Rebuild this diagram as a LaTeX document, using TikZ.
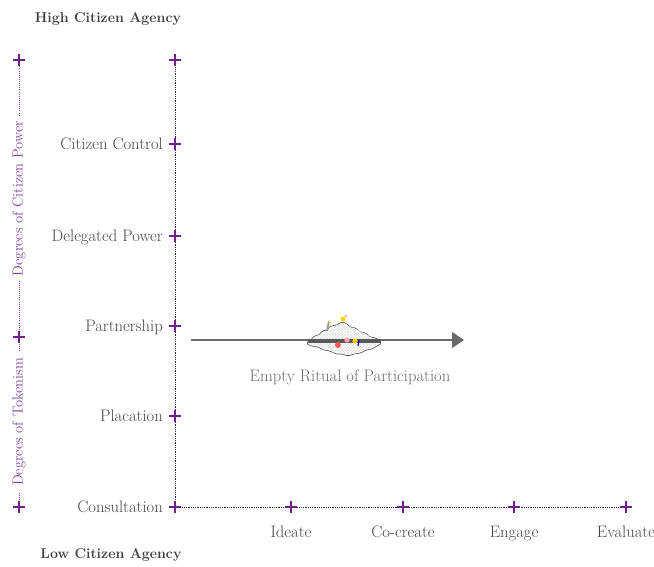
\documentclass[tikz,border=0pt]{standalone}
\usepackage{fontspec}
\usetikzlibrary{arrows.meta,patterns,calc}
\definecolor{tickpurple}{HTML}{6E1F88}
\definecolor{softpurple}{HTML}{8446A0}
\definecolor{labelgray}{HTML}{454545}
\definecolor{headgray}{HTML}{404040}
\definecolor{arrowgray}{HTML}{6A6A6A}
\begin{document}
\begin{tikzpicture}[x=1pt,y=-1pt,
  labelfont/.style={font=\fontsize{16.6}{19}\selectfont, text=labelgray, inner sep=0pt},
  headfont/.style={font=\fontsize{14.2}{17}\selectfont\bfseries, text=headgray, inner sep=0pt},
  sidefont/.style={font=\fontsize{14.5}{16}\selectfont, text=softpurple, fill=white, inner xsep=4pt, inner ysep=0pt, rotate=90},
  axisline/.style={draw=black!85, line width=0.8pt, dash pattern=on 0.9pt off 0.9pt},
  sideline/.style={draw=softpurple, line width=0.9pt, dash pattern=on 0.9pt off 1.2pt},
  plusmark/.style={draw=tickpurple, line width=1.9pt},
  flowarrow/.style={draw=arrowgray, line width=1.4pt, -{Triangle[length=12pt,width=16pt]}},
]
\useasboundingbox (0,0) rectangle (654,566);

% vertical axis positions
\coordinate (v0) at (175,60);
\coordinate (v1) at (175,144);
\coordinate (v2) at (175,236);
\coordinate (v3) at (175,326);
\coordinate (v4) at (175,416);
\coordinate (v5) at (175,507);
% horizontal axis positions
\coordinate (h1) at (291,507);
\coordinate (h2) at (403,507);
\coordinate (h3) at (514,507);
\coordinate (h4) at (626,507);
% side scale positions
\coordinate (s0) at (19,60);
\coordinate (s1) at (19,337);
\coordinate (s2) at (19,507);

% axes
\draw[axisline] (v0) -- (v5);
\draw[axisline] (v5) -- (h4);
\draw[sideline] (s0) -- (s2);

% side scale captions
\node[sidefont] (power) at ($(s0)!0.5!(s1)$) {Degrees of Citizen Power};
\node[sidefont, inner xsep=6pt] (token) at ($(s1)!0.5!(s2)$) {Degrees of Tokenism};

% plus ticks
\foreach \p in {v0,v1,v2,v3,v4,v5,h1,h2,h3,h4,s0,s1,s2}{
  \draw[plusmark] ([xshift=-6pt]\p) -- ([xshift=6pt]\p);
  \draw[plusmark] ([yshift=-6pt]\p) -- ([yshift=6pt]\p);
}

% rung labels
\node[labelfont, anchor=base east] (lcc) at ([xshift=-12pt,yshift=-5pt]v1) {Citizen Control};
\node[labelfont, anchor=base east] (ldp) at ([xshift=-12pt,yshift=-5pt]v2) {Delegated Power};
\node[labelfont, anchor=base east] (lpa) at ([xshift=-12pt,yshift=-5pt]v3) {Partnership};
\node[labelfont, anchor=base east] (lpl) at ([xshift=-12pt,yshift=-5pt]v4) {Placation};
\node[labelfont, anchor=base east] (lco) at ([xshift=-12pt,yshift=-5pt]v5) {Consultation};

% phase labels
\node[labelfont, anchor=base] (lid) at ([yshift=-30pt]h1) {Ideate};
\node[labelfont, anchor=base] (lcr) at ([yshift=-30pt]h2) {Co-create};
\node[labelfont, anchor=base] (len) at ([yshift=-30pt]h3) {Engage};
\node[labelfont, anchor=base] (lev) at ([yshift=-30pt]h4) {Evaluate};

% headings
\node[headfont, anchor=base] (high) at (108,22) {High Citizen Agency};
\node[headfont, anchor=base] (low) at (111,558) {Low Citizen Agency};

% ritual arrow
\coordinate (ra) at (191,340);
\coordinate (rb) at (464,340);
\draw[flowarrow] (ra) -- (rb);

% small cloud island on the arrow
\path[draw=black!70, line width=0.6pt, fill=white, rounded corners=1.5pt]
  (306,343) -- (311,340) -- (314,336) -- (319,335) -- (322,331) -- (327,330)
  -- (331,326) -- (337,325) -- (341,322) -- (346,323) -- (350,327) -- (356,328)
  -- (360,332) -- (366,333) -- (370,337) -- (376,338) -- (382,343)
  -- (377,346) -- (372,349) -- (366,350) -- (361,353) -- (354,354) -- (348,356)
  -- (342,354) -- (336,354) -- (330,351) -- (324,350) -- (318,347) -- (311,346) -- cycle;
\path[pattern=crosshatch, pattern color=black!10]
  (308,343) -- (314,337) -- (327,331) -- (341,323) -- (356,329) -- (368,335)
  -- (380,343) -- (366,349) -- (348,355) -- (330,350) -- cycle;
\draw[draw=black!65, line width=3.5pt] (308,341) -- (381,341);
\fill[red!65!white] (338,345) circle (3pt);
\fill[red!35!white] (347,340) circle (2.6pt);
\fill[yellow!70!orange] (355,341) circle (2.6pt);
\draw[blue!70!black, line width=1.2pt] (359,340) -- (358,346);
\fill[yellow!75!orange] (343,319) circle (2.6pt);
\fill[red!30!white] (346,316) circle (1.6pt);
\draw[black!40, line width=1.8pt] (329,321) -- (327,331);
\fill[yellow!60!brown!60] (330,322) circle (1.6pt);

\node[font=\fontsize{16.6}{19}\selectfont, text=arrowgray, anchor=base, inner sep=0pt] (ritual) at (350,381) {Empty Ritual of Participation};
\end{tikzpicture}
\end{document}
